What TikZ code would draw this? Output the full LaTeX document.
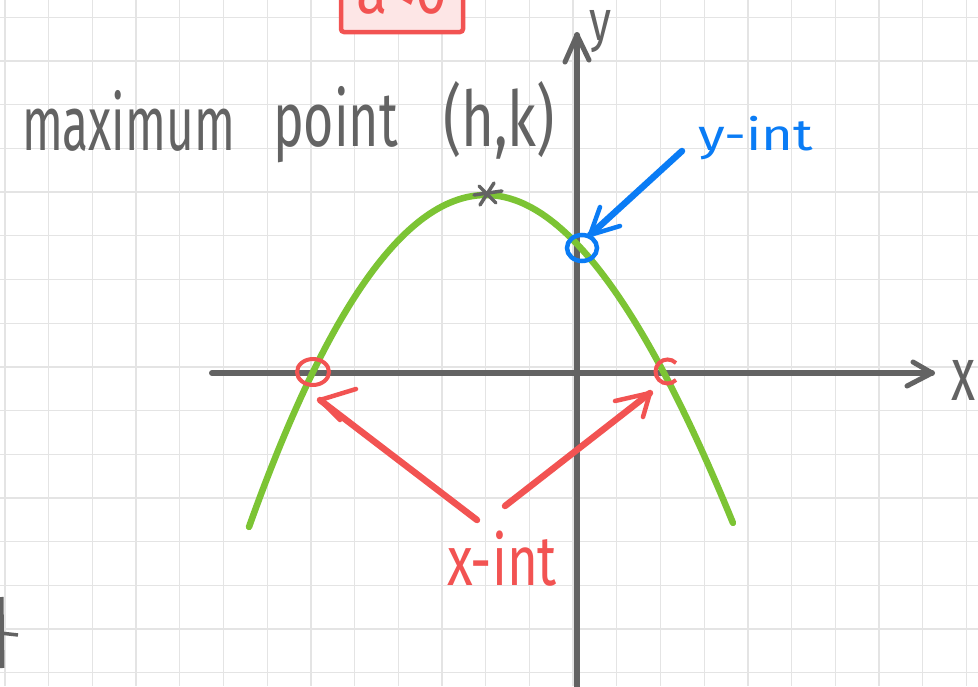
\documentclass[tikz,border=0pt]{standalone}
\usepackage{fontspec}
\setmainfont{Fira Sans}
\usepackage{graphicx}
\definecolor{gridc}{HTML}{E4E4E4}
\definecolor{inkgray}{HTML}{636363}
\definecolor{inkred}{HTML}{F25352}
\definecolor{inkblue}{HTML}{0A7CF5}
\definecolor{inkgreen}{HTML}{7CC434}
\definecolor{boxpink}{HTML}{FDE6E6}
\newcommand{\handw}[2]{\resizebox{#1}{\height}{#2}}
\begin{document}
\begin{tikzpicture}[x=1pt,y=-1pt,
  gridline/.style={gridc,line width=1.3pt},
  axisline/.style={inkgray,line width=6pt,line cap=round,line join=round},
  curveline/.style={inkgreen,line width=6.5pt,line cap=round,line join=round},
  redink/.style={inkred,line width=6.5pt,line cap=round,line join=round},
  redthin/.style={inkred,line width=4.5pt,line cap=round,line join=round},
  blueink/.style={inkblue,line width=6.5pt,line cap=round,line join=round},
  bluethin/.style={inkblue,line width=4.5pt,line cap=round,line join=round},
  grayink/.style={inkgray,line width=3.5pt,line cap=round},
  label/.style={anchor=base west,inner sep=0pt,outer sep=0pt}]
\useasboundingbox (0,0) rectangle (978,686);
\fill[white] (0,0) rectangle (978,686);
% grid
\foreach \k in {0,...,22} {\draw[gridline] ({5+43.7*\k},0) -- ({5+43.7*\k},686);}
\foreach \k in {0,...,15} {\draw[gridline] (0,{17.3+43.7*\k}) -- (978,{17.3+43.7*\k});}
% a<0 box (cut by the top edge, as in the reference)
\draw[inkred,line width=4.5pt,fill=boxpink,rounded corners=3pt] (341,-10) rectangle (463,32);
\node[label,text=inkred,font={\fontsize{70}{72}\selectfont}] (acond) at (356,13) {\handw{92pt}{a<0}};
% axes
\coordinate (xl) at (212,373);
\coordinate (xr) at (932,373);
\coordinate (yb) at (577,690);
\coordinate (yt) at (577,35);
\draw[axisline] (xl) -- (xr);
\draw[axisline] (yb) -- (yt);
\draw[axisline,line width=5pt] (913,362) -- (xr) -- (907,386);
\draw[axisline,line width=5pt] (565,62) -- (yt) -- (589,60);
\node[label,text=inkgray,font={\fontsize{76}{78}\selectfont}] (xlab) at (951,400) {\handw{24pt}{x}};
\node[label,text=inkgray,font={\fontsize{57}{59}\selectfont}] (ylab) at (589,40) {\handw{22pt}{y}};
% parabola
\draw[curveline] plot[domain=-2.37:0,samples=60] ({486+100*\x},{195+59.1*\x*\x})
  -- plot[domain=0:2.47,samples=60] ({486+100*\x},{195+62.42*\x*\x-3.504*\x*\x*\x});
% vertex star
\coordinate (vtx) at (487,194);
\draw[grayink] (474,195) -- (502,191);
\draw[grayink] (480,205) -- (494,183);
\draw[grayink] (479,186) -- (496,203);
% texts
\node[label,text=inkgray,font={\fontsize{77}{80}\selectfont}] (t1) at (22,150) {\handw{213pt}{maximum}};
\node[label,text=inkgray,font={\fontsize{77}{80}\selectfont}] (t2) at (273,146) {\handw{125pt}{point}};
\node[label,text=inkgray,font={\fontsize{77}{80}\selectfont}] (t3) at (443,146) {\handw{112pt}{(h,k)}};
\node[label,text=inkblue,font={\fontsize{44}{46}\selectfont}] (yint) at (698,150) {\handw{115pt}{y-int}};
\node[label,text=inkred,font={\fontsize{70}{72}\selectfont}] (xint) at (447,585) {\handw{110pt}{x-int}};
% intercept marks
\draw[inkblue,line width=4.5pt] (582,248) ellipse [x radius=15, y radius=13];
\draw[inkred,line width=4pt] (313,372) ellipse [x radius=16, y radius=13];
\draw[inkred,line width=4pt] (676,363) arc[start angle=-45,end angle=-315,radius=12];
% blue arrow
\coordinate (bt) at (682,151);
\coordinate (bh) at (590,235);
\draw[blueink] (bt) -- (bh);
\draw[bluethin] (600,207) -- (bh) -- (620,226);
% red arrows
\coordinate (rlt) at (477,520);
\coordinate (rlh) at (320,400);
\draw[redink] (rlt) -- (rlh);
\draw[redthin] (356,389) -- (rlh) -- (340,420);
\coordinate (rrt) at (505,506);
\coordinate (rrh) at (650,393);
\draw[redink] (rrt) -- (rrh);
\draw[redthin] (615,401) -- (rrh) -- (643,417);
% partial glyph at lower left
\draw[inkgray,line width=5pt] (1,597) -- (2,668);
\draw[inkgray,line width=3.5pt] (0,633) -- (18,635);
\end{tikzpicture}
\end{document}
